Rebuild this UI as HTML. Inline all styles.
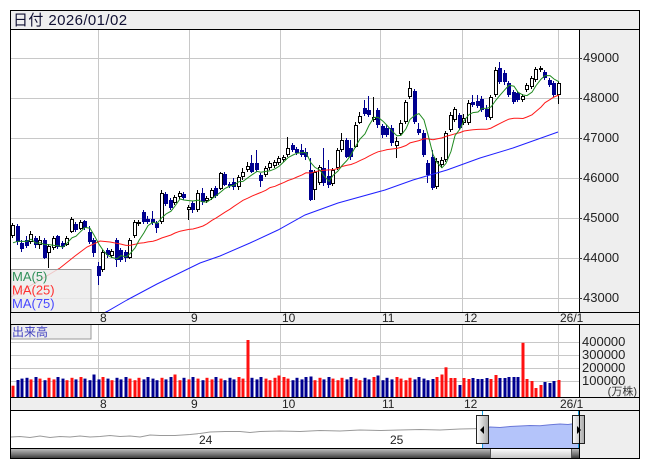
<!DOCTYPE html>
<html><head><meta charset="utf-8"><style>
html,body{margin:0;padding:0;background:#fff;width:653px;height:470px;overflow:hidden}
svg{display:block}
text{font-family:"Liberation Sans","Noto Sans CJK JP",sans-serif}
</style></head><body>
<svg id="s" width="653" height="470" xmlns="http://www.w3.org/2000/svg">
<defs>
<clipPath id="pc"><rect x="11" y="30" width="568" height="282"/></clipPath>
<clipPath id="vc"><rect x="11" y="325" width="568" height="72"/></clipPath>
<linearGradient id="hg" x1="0" y1="0" x2="1" y2="0"><stop offset="0" stop-color="#ffffff"/><stop offset="1" stop-color="#a8a8a8"/></linearGradient>
<linearGradient id="sg" x1="0" y1="0" x2="0" y2="1"><stop offset="0" stop-color="#c8c8c8"/><stop offset="0.5" stop-color="#808080"/><stop offset="1" stop-color="#303030"/></linearGradient>
<linearGradient id="tg" x1="0" y1="0" x2="0" y2="1"><stop offset="0" stop-color="#ffffff"/><stop offset="1" stop-color="#c4c4c4"/></linearGradient>
</defs>
<rect width="653" height="470" fill="#fff"/>
<!-- header -->
<rect x="10" y="10" width="630" height="19" fill="#efefef"/>
<text x="13" y="25" font-size="15" letter-spacing="0.4" fill="#111133">日付 2026/01/02</text>
<!-- right axis panels -->
<rect x="579" y="29" width="61" height="283" fill="#eeeeee"/>
<rect x="579" y="324" width="61" height="73" fill="#eeeeee"/>
<rect x="579" y="410" width="61" height="49" fill="#eeeeee"/>
<!-- x strips -->
<rect x="10" y="312" width="630" height="12" fill="#eeeeee"/>
<rect x="10" y="397" width="630" height="13" fill="#eeeeee"/>
<g id="grid" stroke="#c8c8c8" stroke-width="1" shape-rendering="crispEdges"></g>
<g id="candles" clip-path="url(#pc)"></g>
<g id="mas" clip-path="url(#pc)" fill="none" stroke-width="1"></g>
<g id="vol" clip-path="url(#vc)"></g>
<!-- legend -->
<rect x="11" y="269.5" width="80" height="43" fill="rgba(236,236,236,0.82)" stroke="#999" stroke-width="1"/>
<text x="12" y="281" font-size="13" fill="#30905a">MA(5)</text>
<text x="12" y="294.5" font-size="13" fill="#ff3030">MA(25)</text>
<text x="12" y="308" font-size="13" fill="#4848ff">MA(75)</text>
<rect x="11" y="324.5" width="80" height="14.5" fill="#eeeeee" stroke="#999" stroke-width="1"/>
<text x="12" y="336" font-size="12" fill="#4040c0">出来高</text>
<!-- axis labels -->
<g font-size="13" fill="#222">
<text x="583" y="62">49000</text>
<text x="583" y="102">48000</text>
<text x="583" y="142">47000</text>
<text x="583" y="182">46000</text>
<text x="583" y="222">45000</text>
<text x="583" y="262">44000</text>
<text x="583" y="302">43000</text>
<text x="582" y="346">400000</text>
<text x="582" y="359">300000</text>
<text x="582" y="372">200000</text>
<text x="582" y="385">100000</text>
</g>
<text x="637" y="395" font-size="11" fill="#333" text-anchor="end">(万株)</text>
<g font-size="12" fill="#222">
<text x="100" y="322">8</text><text x="191" y="322">9</text><text x="282" y="322">10</text><text x="382" y="322">11</text><text x="464" y="322">12</text><text x="560" y="322">26/1</text>
<text x="100" y="408">8</text><text x="191" y="408">9</text><text x="282" y="408">10</text><text x="382" y="408">11</text><text x="464" y="408">12</text><text x="560" y="408">26/1</text>
</g>
<!-- navigator -->
<rect x="11" y="411" width="568" height="37" fill="#fff"/>
<g id="nav"></g>
<rect x="198" y="434" width="17" height="12" fill="#fff"/>
<text x="199" y="444" font-size="12" fill="#222">24</text>
<rect x="389" y="434" width="17" height="12" fill="#fff"/>
<text x="390" y="444" font-size="12" fill="#222">25</text>
<line x1="482.5" y1="411" x2="482.5" y2="448" stroke="#1aa0e0"/>
<line x1="578.5" y1="411" x2="578.5" y2="448" stroke="#1aa0e0"/>
<rect x="476.5" y="415.5" width="12" height="28" fill="url(#hg)" stroke="#222"/>
<polygon points="484,426 484,434 480,430" fill="#000"/>
<rect x="572.5" y="415.5" width="12" height="28" fill="url(#hg)" stroke="#222"/>
<polygon points="577,426 577,434 581,430" fill="#000"/>
<!-- scrollbar -->
<rect x="11" y="448" width="568" height="11" fill="url(#sg)"/>
<rect x="490.5" y="448.5" width="81" height="10" fill="url(#tg)" stroke="#555"/>
<!-- frame lines -->
<g stroke="#000" stroke-width="1" fill="none" shape-rendering="crispEdges">
<rect x="10.5" y="10.5" width="629" height="448"/>
<line x1="10" y1="29.5" x2="640" y2="29.5"/>
<line x1="10" y1="312.5" x2="640" y2="312.5"/>
<line x1="10" y1="324.5" x2="640" y2="324.5"/>
<line x1="10" y1="397.5" x2="640" y2="397.5"/>
<line x1="10" y1="410.5" x2="640" y2="410.5"/>
<line x1="10" y1="448.5" x2="579" y2="448.5"/>
<line x1="579.5" y1="29" x2="579.5" y2="312"/>
<line x1="579.5" y1="324" x2="579.5" y2="397"/>
<line x1="579.5" y1="410" x2="579.5" y2="459"/>
</g>
<g stroke="#333" shape-rendering="crispEdges">
<line x1="579" y1="58.5" x2="582" y2="58.5"/><line x1="579" y1="98.5" x2="582" y2="98.5"/><line x1="579" y1="138.5" x2="582" y2="138.5"/><line x1="579" y1="178.5" x2="582" y2="178.5"/><line x1="579" y1="218.5" x2="582" y2="218.5"/><line x1="579" y1="258.5" x2="582" y2="258.5"/><line x1="579" y1="298.5" x2="582" y2="298.5"/>
</g>
</svg>
<script>
(function(){
var NS='http://www.w3.org/2000/svg';
function el(t,a,p){var e=document.createElementNS(NS,t);for(var k in a)e.setAttribute(k,a[k]);p.appendChild(e);return e;}
var grid=document.getElementById('grid');
var vx=[98,189,280,380,462,558];
[58,98,138,178,218,258,298].forEach(function(y){el('line',{x1:11,x2:579,y1:y+0.5,y2:y+0.5},grid);});
[342,355,368,381].forEach(function(y){el('line',{x1:11,x2:579,y1:y+0.5,y2:y+0.5},grid);});
vx.forEach(function(x){el('line',{x1:x+0.5,x2:x+0.5,y1:30,y2:312},grid);el('line',{x1:x+0.5,x2:x+0.5,y1:325,y2:397},grid);});
var D=[[236,225,223,238],[226,242,224,245],[243,249,240,252],[240,246,236,248],[242,234,231,244],[238,245,236,248],[245,240,236,249],[240,258,238,259],[253,246,244,268],[248,238,236,250],
[236,247,235,249],[243,247,241,249],[245,238,236,246],[232,219,217,233],[224,230,222,232],[229,222,220,230],[221,228,220,230],[232,242,226,244],[240,253,238,257],[266,276,262,285],
[270,252,250,272],[250,255,248,258],[256,251,249,258],[240,260,238,267],[250,260,248,262],[252,258,250,262],[258,240,238,259],[236,222,220,238],[224,222,220,226],[212,222,210,224],
[219,222,216,224],[219,223,211,225],[223,228,221,233],[222,193,190,224],[194,204,192,206],[200,208,198,210],[203,197,195,205],[197,193,191,199],[194,198,192,200],[210,207,205,220],
[203,210,201,213],[210,193,190,212],[193,202,188,205],[201,198,196,203],[198,190,188,200],[188,196,186,198],[189,173,172,190],[174,185,172,186],[184,186,182,188],[182,187,178,190],
[187,177,175,190],[177,172,168,180],[170,166,162,172],[163,172,155,173],[163,170,150,172],[175,181,173,187],[175,168,166,177],[168,163,161,170],[166,162,160,168],[163,158,156,165],
[160,157,155,162],[155,148,137,157],[145,150,143,152],[149,153,147,155],[150,155,144,157],[152,157,148,160],[170,200,158,201],[190,172,170,200],[183,167,165,185],[168,183,148,186],
[176,185,160,188],[184,170,168,186],[168,150,148,170],[150,140,133,152],[140,157,138,158],[148,157,140,160],[147,125,122,148],[123,116,112,124],[108,114,100,116],[110,115,96,117],
[120,117,97,122],[110,125,108,128],[126,135,124,138],[128,135,125,137],[128,143,125,146],[146,141,137,158],[134,123,120,136],[122,102,100,124],[97,88,81,99],[91,122,89,124],
[129,133,123,135],[133,155,130,157],[163,175,160,183],[157,188,150,190],[187,161,158,189],[165,160,157,168],[160,133,131,162],[130,115,112,132],[120,109,107,122],[115,128,113,130],
[123,118,114,125],[123,103,100,125],[102,105,95,107],[101,106,95,108],[99,110,96,112],[109,117,105,120],[118,97,95,120],[95,70,67,97],[68,82,62,84],[73,82,70,85],
[83,95,81,97],[92,102,90,104],[93,100,91,102],[100,96,94,102],[90,85,83,92],[87,78,76,89],[80,69,67,82],[70,68,66,72],[72,78,70,80],[80,85,78,87],
[83,95,81,97],[95,83,81,104]];
var x0=13,dx=4.512;
var cg=document.getElementById('candles'),vg=document.getElementById('vol');
var VO={0:385.7,1:380,2:378.6,18:374.5,36:374.5,52:340,59:375.5,66:376.5,81:375.5,93:379,94:377,95:374.5,96:367.3,97:378,98:378,99:385,100:378,101:379,102:378,103:379,104:379,105:378,106:379,107:375,108:378,109:378,110:377,111:377,112:377,113:342.8,114:379,115:381,116:388,117:385,118:382,119:383,120:381,121:380};
var CL=[250,248,246,245],cx=[];
D.forEach(function(d,i){
 var o=d[0],c=d[1],h=d[2],l=d[3];
 var L=Math.round(x0+i*dx)-2;cx.push(L+2);CL.push(c);
 var up=c<o;var col=up?'#000':'#000090';
 el('line',{x1:L+1.5,x2:L+1.5,y1:h,y2:l,stroke:col,'stroke-width':1,'shape-rendering':'crispEdges'},cg);
 var top=Math.min(o,c),bot=Math.max(o,c);
 if(up){el('rect',{x:L+0.5,y:top+0.5,width:3,height:Math.max(bot-top-1,1),fill:'#fff',stroke:'#000','stroke-width':1,'shape-rendering':'crispEdges'},cg);}
 else{el('rect',{x:L,y:top,width:4,height:Math.max(bot-top,1),fill:'#000090','shape-rendering':'crispEdges'},cg);}
 var vt=VO.hasOwnProperty(i)?VO[i]:(377+((i*7)%5)*0.8);
 var vcol=(up||i==52||i==113)?'#ff1010':'#000090';
 el('rect',{x:L+0.5,y:vt,width:3,height:398-vt,fill:vcol},vg);
});
var mg=document.getElementById('mas');
// MA25
var r=[[11,297],[35,283],[60,268],[75,256],[87,247],[100,241],[110,242]];
for(var i=24;i<D.length;i++){var s=0;for(var j=i-24;j<=i;j++)s+=D[j][1];r.push([cx[i],s/25]);}
el('polyline',{points:r.map(function(p){return p[0]+','+p[1].toFixed(1);}).join(' '),stroke:'#ff1a1a'},mg);
// MA75
var b=[[96,317],[107,311.5],[127,300],[157,284],[200,263],[220,256],[250,243],[278,230],[305,215],[338,203],[385,190],[413,180],[447,170],[480,158],[513,148],[558,132]];
el('polyline',{points:b.map(function(p){return p[0]+','+p[1];}).join(' '),stroke:'#2020ff'},mg);
// MA5
var g5=[];for(var i=0;i<D.length;i++){var s=0;for(var j=0;j<5;j++)s+=CL[i+4-j];g5.push([cx[i],s/5]);}
el('polyline',{points:g5.map(function(p){return p[0]+','+p[1].toFixed(1);}).join(' '),stroke:'#1f8a1f'},mg);
// navigator
var nv=document.getElementById('nav');
var gp=[[11,437],[20,436.5],[30,437.5],[40,436],[50,437.5],[60,436.5],[70,437],[80,436],[90,437],[100,436.5],[110,435.5],[120,436.5],[130,436],[140,437],[150,435],[160,435.5],[175,435.5],[190,434.5],[200,433.5],[210,432],[225,431.5],[240,431.5],[250,432.5],[260,431.5],[280,431],[300,431.5],[320,430.5],[340,431],[360,430],[380,430.5],[400,430],[420,429.5],[440,430],[460,429],[483,428.5]];
el('polyline',{points:gp.map(function(p){return p.join(',');}).join(' '),fill:'none',stroke:'#9a9a9a','stroke-width':1},nv);
var bp=[[483,428.5],[490,427],[500,427.5],[510,426.5],[520,426],[530,425.5],[540,425.8],[550,424.8],[560,424],[568,424.5],[579,423]];
var poly=bp.map(function(p){return p.join(',');}).join(' ');
el('polygon',{points:'483,448 '+poly+' 579,448',fill:'#b4c4fa'},nv);
el('polyline',{points:poly,fill:'none',stroke:'#6a78d8','stroke-width':1},nv);
})();
</script>
</body></html>
